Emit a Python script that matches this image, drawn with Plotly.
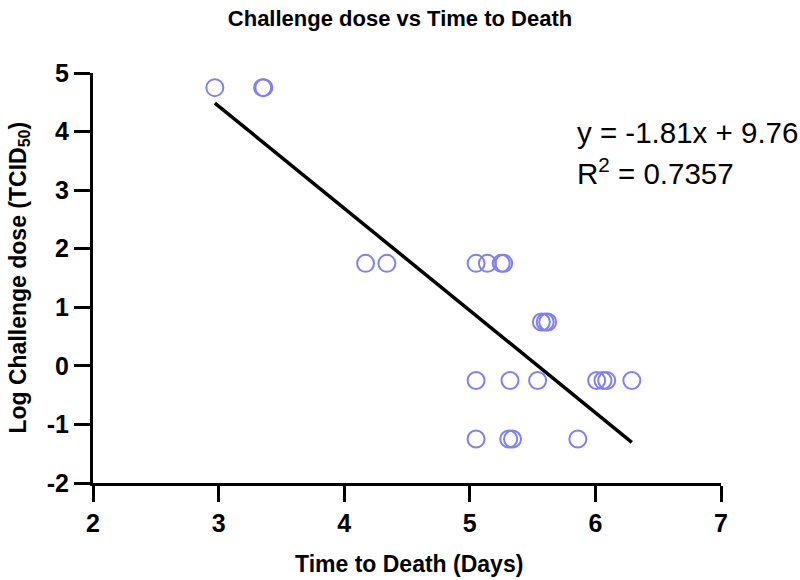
import numpy as np
import plotly.graph_objects as go

# Data
time_to_death = [2.97, 3.35, 3.36,
                 4.17, 4.34, 5.05, 5.14, 5.25, 5.27,
                 5.57, 5.60, 5.62,
                 5.05, 5.32, 5.54, 6.01, 6.06, 6.09, 6.29,
                 5.05, 5.31, 5.34, 5.86]
log_dose = [4.75, 4.75, 4.75,
            1.75, 1.75, 1.75, 1.75, 1.75, 1.75,
            0.75, 0.75, 0.75,
            -0.25, -0.25, -0.25, -0.25, -0.25, -0.25, -0.25,
            -1.25, -1.25, -1.25, -1.25]
# regression line as drawn in the chart
fit_slope = -1.745
fit_intercept = 9.67
x_ticks = [2, 3, 4, 5, 6, 7]
x_tick_labels = ["2", "3", "4", "5", "6", "7"]
y_ticks = [-2, -1, 0, 1, 2, 3, 4, 5]
y_tick_labels = ["-2", "-1", "0", "1", "2", "3", "4", "5"]
eq_text = "y = -1.81x + 9.76"
r2_text = "R<sup>2</sup> = 0.7357"

xs = np.array(time_to_death)
fit_x = np.array([xs.min(), xs.max()])
fit_y = fit_slope * fit_x + fit_intercept

L, R, T, B = 92.5, 800 - 721.3, 73.3, 580 - 482.7
pw = 800 - L - R
ph = 580 - T - B

fig = go.Figure()
fig.add_trace(go.Scatter(x=fit_x, y=fit_y, mode="lines",
                         line=dict(color="black", width=3.5),
                         showlegend=False, cliponaxis=False))
fig.add_trace(go.Scatter(x=time_to_death, y=log_dose, mode="markers",
                         marker=dict(symbol="circle-open", size=17,
                                     color="#8080f2", line=dict(width=2)),
                         showlegend=False, cliponaxis=False))

ff = "Liberation Sans, Arial, sans-serif"
tickfont = dict(family=ff, size=25, color="black", weight="bold")
axis_common = dict(ticks="outside", ticklen=16, tickwidth=3, tickcolor="black",
                   showline=True, linewidth=3, linecolor="black", showgrid=False,
                   zeroline=False, tickfont=tickfont)
fig.update_xaxes(range=[2, 7], tickvals=x_ticks, ticktext=x_tick_labels, **axis_common)
fig.update_yaxes(range=[-2, 5], tickvals=y_ticks, ticktext=y_tick_labels, **axis_common)

fig.update_layout(
    width=800, height=580,
    margin=dict(l=L, r=R, t=T, b=B, pad=0),
    plot_bgcolor="white", paper_bgcolor="white",
    title=dict(text="<b>Challenge dose vs Time to Death</b>", x=0.5, xanchor="center",
               y=1 - 18 / 580, yanchor="middle",
               font=dict(family=ff, size=22, color="black")),
    annotations=[
        dict(text="<b>Time to Death (Days)</b>", xref="paper", yref="paper",
             x=(409 - L) / pw, y=-(564 - (T + ph)) / ph, xanchor="center", yanchor="middle",
             showarrow=False, font=dict(family=ff, size=23, color="black")),
        dict(text="<b>Log Challenge dose (TCID<sub>50</sub>)</b>", xref="paper", yref="paper",
             x=(18 - L) / pw, y=1 - (278 - T) / ph, xanchor="center", yanchor="middle",
             textangle=-90, showarrow=False, font=dict(family=ff, size=23, color="black")),
        dict(text=eq_text, xref="paper", yref="paper",
             x=(575 - L) / pw, y=1 - (133 - T) / ph, xanchor="left", yanchor="middle",
             showarrow=False, font=dict(family=ff, size=29.5, color="black")),
        dict(text=r2_text, xref="paper", yref="paper",
             x=(575 - L) / pw, y=1 - (172 - T) / ph, xanchor="left", yanchor="middle",
             showarrow=False, font=dict(family=ff, size=29.5, color="black")),
    ],
)
fig.write_html("out.html", config={"displayModeBar": False},
               post_script="document.body.style.margin='0';")
